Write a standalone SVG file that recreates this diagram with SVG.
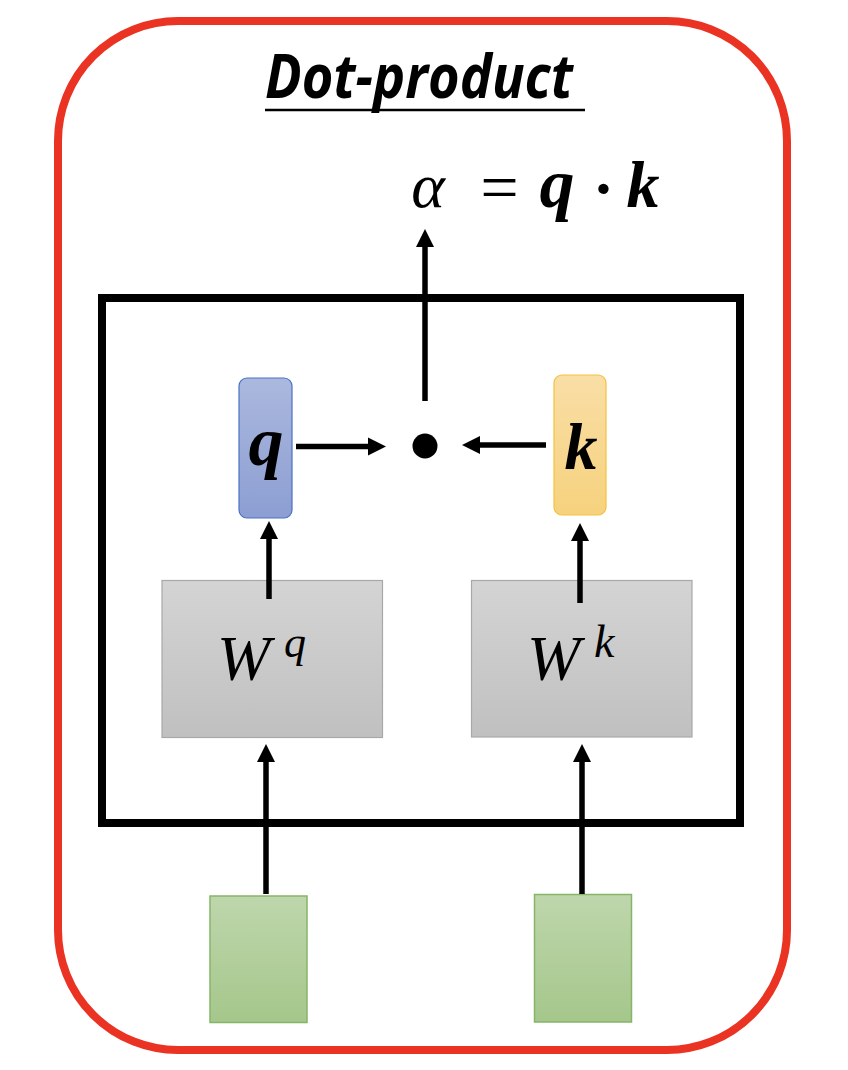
<svg xmlns="http://www.w3.org/2000/svg" width="848" height="1070" viewBox="0 0 848 1070">
  <defs>
    <linearGradient id="gq" x1="0" y1="0" x2="0" y2="1">
      <stop offset="0" stop-color="#ABB8DE"/>
      <stop offset="1" stop-color="#8C9ED2"/>
    </linearGradient>
    <linearGradient id="gk" x1="0" y1="0" x2="0" y2="1">
      <stop offset="0" stop-color="#F9DEA6"/>
      <stop offset="1" stop-color="#F6D27E"/>
    </linearGradient>
    <linearGradient id="gw" x1="0" y1="0" x2="0" y2="1">
      <stop offset="0" stop-color="#D4D4D4"/>
      <stop offset="1" stop-color="#C0C0C0"/>
    </linearGradient>
    <linearGradient id="gg" x1="0" y1="0" x2="0" y2="1">
      <stop offset="0" stop-color="#BED6AC"/>
      <stop offset="1" stop-color="#A5C78B"/>
    </linearGradient>
  </defs>
  <style>
    .conn line { stroke: #000; stroke-width: 5.5; }
    .conn polygon { fill: #000; }
    .math { font-family: "Liberation Serif", "DejaVu Serif", serif; font-style: italic; fill: #000; }
    .bold { font-weight: bold; }
  </style>

  <g id="outer">
    <rect x="58" y="21" width="729" height="1029" rx="120" ry="120" fill="#fff" stroke="#EA3323" stroke-width="8"/>
  </g>

  <g id="title">
    <text x="265" y="98" font-family="'Open Sans', 'Liberation Sans', sans-serif" font-weight="bold" font-style="italic" font-size="60" textLength="308" lengthAdjust="spacingAndGlyphs" fill="#000">Dot-product</text>
    <line x1="265" y1="110" x2="585" y2="110" stroke="#000" stroke-width="2.5"/>
  </g>

  <g id="formula">
    <text class="math" x="428" y="207" font-size="64" text-anchor="middle">α</text>
    <text class="math" x="499" y="210" font-size="68" font-style="normal" text-anchor="middle">=</text>
    <text class="math bold" x="557" y="207" font-size="70" text-anchor="middle">q</text>
    <text class="math bold" x="603" y="210" font-size="64" font-style="normal" text-anchor="middle">·</text>
    <text class="math bold" x="643" y="207" font-size="66" text-anchor="middle">k</text>
  </g>

  <g id="module">
    <rect x="102" y="298" width="638" height="525" fill="none" stroke="#000" stroke-width="8"/>
  </g>

  <g id="node-q">
    <rect x="239" y="378" width="53" height="140" rx="8" ry="8" fill="url(#gq)" stroke="#4A72C4" stroke-width="1.2"/>
    <text class="math bold" x="266" y="465" font-size="70" text-anchor="middle">q</text>
  </g>

  <g id="node-k">
    <rect x="554" y="375" width="52" height="140" rx="8" ry="8" fill="url(#gk)" stroke="#F4C23E" stroke-width="1.2"/>
    <text class="math bold" x="581" y="469" font-size="66" text-anchor="middle">k</text>
  </g>

  <g id="node-dot">
    <circle cx="425" cy="446" r="12.5" fill="#000"/>
  </g>

  <g id="node-Wq">
    <rect x="162" y="580.5" width="220.5" height="157" fill="url(#gw)" stroke="#A8A8A8" stroke-width="1.2"/>
    <text class="math" x="217" y="680" font-size="64">W</text>
    <text class="math" x="284" y="657" font-size="44">q</text>
  </g>

  <g id="node-Wk">
    <rect x="471.5" y="580.5" width="220.5" height="156.5" fill="url(#gw)" stroke="#A8A8A8" stroke-width="1.2"/>
    <text class="math" x="527" y="680" font-size="64">W</text>
    <text class="math" x="594" y="657" font-size="46">k</text>
  </g>

  <g id="input-1">
    <rect x="210" y="896" width="97" height="126.5" fill="url(#gg)" stroke="#86B56A" stroke-width="1.5"/>
  </g>

  <g id="input-2">
    <rect x="534.5" y="894.5" width="97" height="127.5" fill="url(#gg)" stroke="#86B56A" stroke-width="1.5"/>
  </g>

  <g id="connectors" class="conn">
    <!-- dot to alpha -->
    <line x1="425" y1="401" x2="425" y2="244"/>
    <polygon points="425,229 416,247 434,247"/>
    <!-- q to dot -->
    <line x1="296" y1="446.5" x2="370" y2="446.5"/>
    <polygon points="386,446.5 368,437.5 368,455.5"/>
    <!-- k to dot -->
    <line x1="546" y1="445" x2="478" y2="445"/>
    <polygon points="462,445 480,436 480,454"/>
    <!-- Wq to q -->
    <line x1="269" y1="599" x2="269" y2="536"/>
    <polygon points="269,521 260,539 278,539"/>
    <!-- Wk to k -->
    <line x1="580" y1="603" x2="580" y2="538"/>
    <polygon points="580,523 571,541 589,541"/>
    <!-- input 1 to Wq -->
    <line x1="266" y1="894" x2="266" y2="759"/>
    <polygon points="266,744 257,762 275,762"/>
    <!-- input 2 to Wk -->
    <line x1="582" y1="894" x2="582" y2="759"/>
    <polygon points="582,744 573,762 591,762"/>
  </g>
</svg>
